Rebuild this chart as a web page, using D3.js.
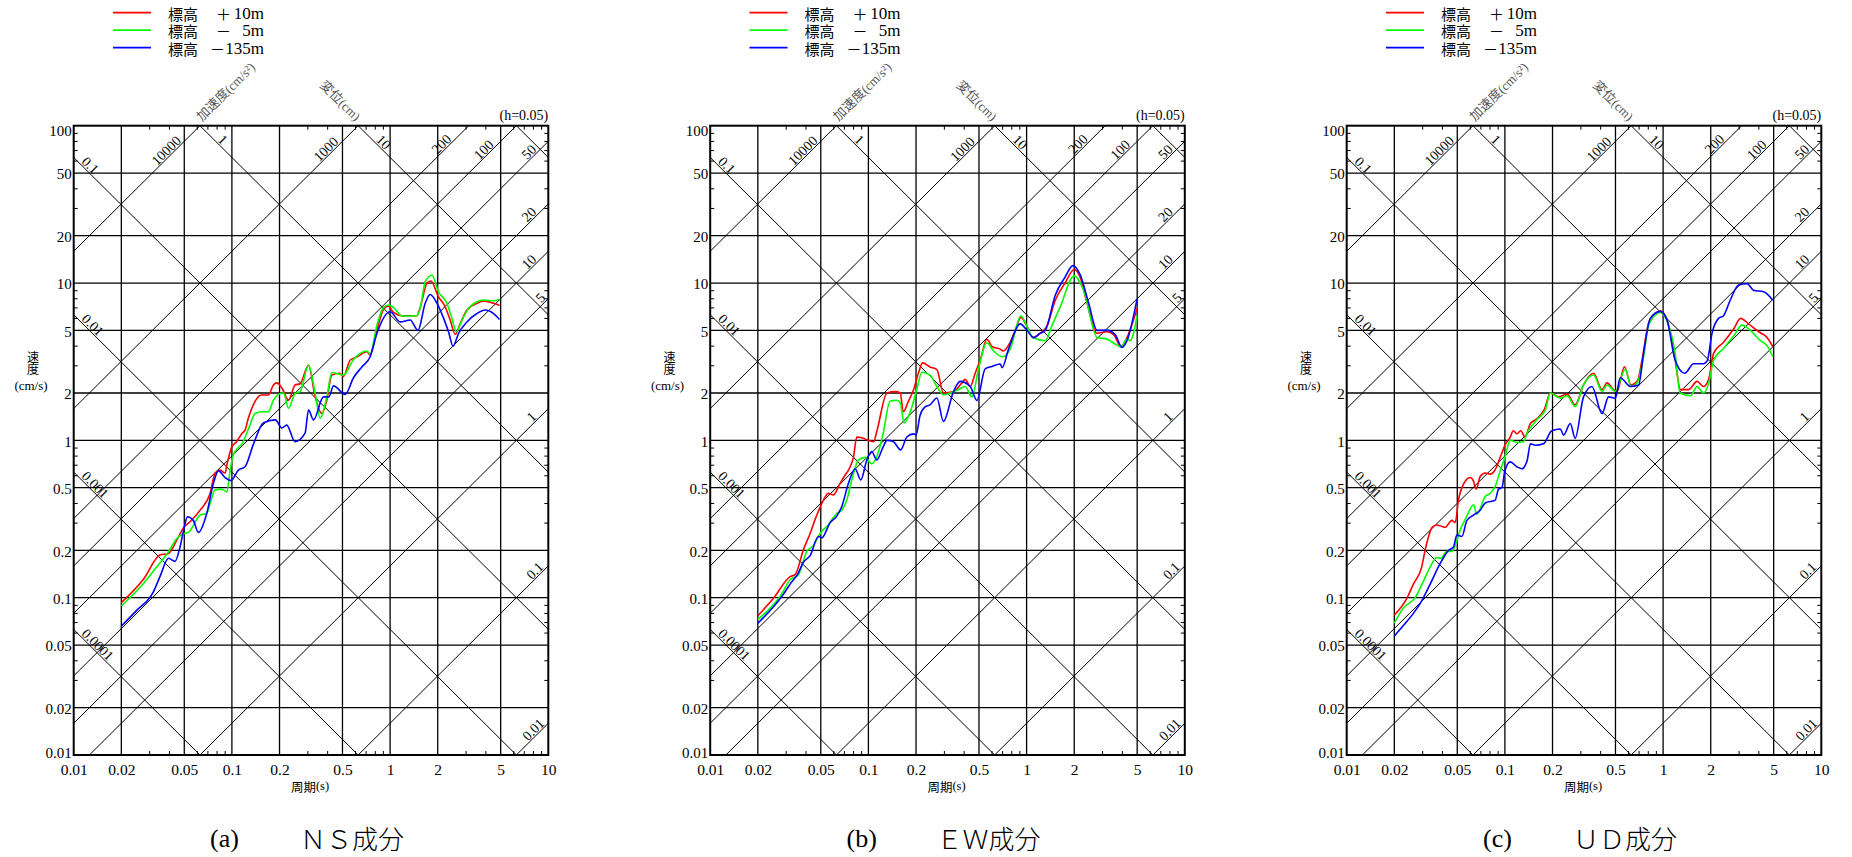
<!DOCTYPE html>
<html><head><meta charset="utf-8">
<script src="https://cdn.jsdelivr.net/npm/d3@7/dist/d3.min.js"></script>
<style>body{margin:0;background:#fff}svg{display:block}.vert{writing-mode:vertical-rl;text-orientation:upright}</style>
</head><body>
<svg id="c" width="1852" height="857"></svg>
<script>
// ---------------- data ----------------
const panelLetters = ["(a)", "(b)", "(c)"];
const panelTitles = ["ＮＳ成分", "ＥＷ成分", "ＵＤ成分"];
const seriesLabels = [["＋", "10m"], ["－", "5m"], ["－", "135m"]];
const seriesColors = ["#ff0000", "#00ff00", "#0000ff"];
const xTickValues = [0.01, 0.02, 0.05, 0.1, 0.2, 0.5, 1, 2, 5, 10];
const xTickLabels = ["0.01", "0.02", "0.05", "0.1", "0.2", "0.5", "1", "2", "5", "10"];
const yTickValues = [0.01, 0.02, 0.05, 0.1, 0.2, 0.5, 1, 2, 5, 10, 20, 50, 100];
const yTickLabels = ["0.01", "0.02", "0.05", "0.1", "0.2", "0.5", "1", "2", "5", "10", "20", "50", "100"];
const accelValues = [0.01, 0.1, 1, 5, 10, 20, 50, 100, 200, 1000, 10000];   // cm/s2
const dispValues = [0.0001, 0.001, 0.01, 0.1, 1, 10, 100];                   // cm
const dispLabelled = [0.0001, 0.001, 0.01, 0.1, 1, 10];

// period (s), pseudo velocity (cm/s)
const nsPlus10 = [[0.02,0.093],[0.0276,0.131],[0.0351,0.187],[0.0397,0.191],[0.0448,0.232],[0.05,0.282],[0.0544,0.304],[0.063,0.36],[0.0728,0.46],[0.0783,0.617],[0.0842,0.647],[0.0906,0.62],[0.0929,0.697],[0.0999,0.91],[0.107,0.98],[0.1158,1.107],[0.121,1.16],[0.127,1.38],[0.138,1.72],[0.154,1.94],[0.170,1.94],[0.183,2.25],[0.192,2.32],[0.207,2.15],[0.228,1.80],[0.251,2.25],[0.270,2.29],[0.305,3.0],[0.336,1.89],[0.370,1.48],[0.398,1.8],[0.428,2.6],[0.48,2.67],[0.507,2.55],[0.56,3.24],[0.62,3.4],[0.713,3.66],[0.748,3.5],[0.826,5.0],[0.909,6.8],[0.977,7.14],[1.05,6.5],[1.19,6.2],[1.476,6.2],[1.55,7.0],[1.71,9.96],[1.81,10.3],[2.02,8.2],[2.23,7.06],[2.40,5.8],[2.58,4.72],[2.77,5.5],[3.06,6.74],[3.54,7.43],[3.90,7.7],[4.51,7.43],[4.92,7.2]];
const nsMinus5 = [[0.02,0.0885],[0.0276,0.123],[0.0335,0.157],[0.0397,0.196],[0.0448,0.238],[0.05,0.256],[0.0531,0.26],[0.063,0.335],[0.0694,0.344],[0.0728,0.397],[0.0783,0.483],[0.0863,0.49],[0.0929,0.47],[0.0975,0.647],[0.102,0.806],[0.118,0.98],[0.130,1.25],[0.140,1.48],[0.154,1.52],[0.170,1.52],[0.183,1.80],[0.197,1.96],[0.212,2.0],[0.228,1.60],[0.251,1.99],[0.270,2.04],[0.305,3.0],[0.336,1.99],[0.361,1.38],[0.398,1.89],[0.428,2.7],[0.507,2.6],[0.587,3.27],[0.713,3.7],[0.748,3.55],[0.826,5.41],[0.909,7.0],[0.977,7.25],[1.05,7.0],[1.19,6.17],[1.476,6.2],[1.55,6.9],[1.667,10.2],[1.84,11.2],[2.02,8.8],[2.29,7.43],[2.46,5.96],[2.62,4.9],[2.85,5.82],[3.13,6.9],[3.54,7.6],[3.90,7.8],[4.51,7.7],[4.92,7.9]];
const nsMinus135 = [[0.02,0.066],[0.025,0.083],[0.0319,0.109],[0.0351,0.136],[0.0397,0.178],[0.0437,0.17],[0.047,0.21],[0.05,0.28],[0.0523,0.327],[0.057,0.31],[0.0614,0.26],[0.0694,0.344],[0.0764,0.533],[0.0822,0.64],[0.0906,0.58],[0.0984,0.555],[0.110,0.647],[0.121,0.68],[0.137,0.95],[0.158,1.29],[0.188,1.35],[0.207,1.2],[0.222,1.25],[0.251,0.98],[0.290,1.11],[0.305,1.56],[0.328,1.35],[0.379,1.89],[0.41,1.89],[0.439,2.22],[0.52,1.96],[0.587,2.5],[0.663,2.93],[0.748,3.4],[0.826,4.79],[1.0,6.57],[1.16,5.66],[1.34,5.82],[1.50,5.0],[1.667,7.43],[1.79,8.45],[1.98,7.43],[2.18,5.96],[2.34,4.9],[2.5,3.97],[2.71,4.79],[3.06,5.66],[3.54,6.4],[3.99,6.74],[4.51,6.4],[4.92,5.87]];

const ewPlus10 = [[0.02,0.0767],[0.0251,0.099],[0.032,0.136],[0.0344,0.14],[0.0388,0.201],[0.0428,0.256],[0.0472,0.335],[0.052,0.417],[0.0558,0.46],[0.0601,0.45],[0.0662,0.533],[0.0712,0.60],[0.0748,0.647],[0.0804,0.78],[0.0845,1.05],[0.0908,1.04],[0.1,1.0],[0.108,0.98],[0.113,1.14],[0.131,2.0],[0.148,2.04],[0.159,2.0],[0.166,1.52],[0.179,1.77],[0.193,2.1],[0.207,2.67],[0.220,3.11],[0.245,2.93],[0.271,2.82],[0.298,2.0],[0.345,2.04],[0.390,2.32],[0.409,2.44],[0.440,2.2],[0.473,2.67],[0.509,3.24],[0.561,4.39],[0.604,3.95],[0.681,3.8],[0.71,3.7],[0.787,4.2],[0.847,4.99],[0.92,6.05],[1.005,5.3],[1.097,4.5],[1.22,4.8],[1.34,5.3],[1.52,7.8],[1.75,9.99],[2.0,12.2],[2.18,10.9],[2.41,7.43],[2.79,4.79],[3.22,4.9],[3.55,4.7],[3.95,3.94],[4.31,4.5],[4.99,6.9]];
const ewMinus5 = [[0.02,0.0728],[0.0277,0.102],[0.032,0.13],[0.0361,0.14],[0.0408,0.197],[0.0449,0.215],[0.0495,0.256],[0.0558,0.29],[0.0631,0.344],[0.0679,0.36],[0.073,0.417],[0.0785,0.56],[0.0865,0.75],[0.0953,0.78],[0.105,0.71],[0.116,0.85],[0.124,1.11],[0.137,1.77],[0.151,1.80],[0.159,1.73],[0.168,1.29],[0.184,1.52],[0.202,2.1],[0.218,2.71],[0.245,2.6],[0.271,2.2],[0.298,1.95],[0.371,2.1],[0.409,2.2],[0.451,1.89],[0.497,2.85],[0.561,4.17],[0.618,3.7],[0.71,3.4],[0.787,3.8],[0.92,6.2],[1.005,5.3],[1.097,4.5],[1.31,4.3],[1.45,5.4],[1.63,7.06],[2.0,11.1],[2.29,9.0],[2.79,4.5],[3.22,4.4],[3.63,4.1],[3.95,3.92],[4.31,4.4],[4.52,4.3],[4.99,6.2]];
const ewMinus135 = [[0.02,0.0687],[0.0263,0.0925],[0.029,0.105],[0.032,0.122],[0.0361,0.144],[0.0388,0.168],[0.0428,0.185],[0.0483,0.245],[0.0507,0.24],[0.0573,0.30],[0.0631,0.33],[0.0679,0.38],[0.0748,0.533],[0.0824,0.66],[0.0895,0.56],[0.0977,0.75],[0.105,0.85],[0.113,0.75],[0.124,0.91],[0.131,1.0],[0.144,0.98],[0.160,0.87],[0.175,1.05],[0.193,1.1],[0.2,1.08],[0.212,1.44],[0.228,1.63],[0.245,1.68],[0.271,1.86],[0.298,1.32],[0.345,2.04],[0.380,2.37],[0.440,2.2],[0.485,1.79],[0.547,2.85],[0.604,2.95],[0.681,3.06],[0.70,2.9],[0.769,3.8],[0.912,5.5],[1.005,5.0],[1.11,4.5],[1.22,4.8],[1.31,4.99],[1.52,8.4],[1.75,10.9],[1.96,12.9],[2.18,11.3],[2.47,7.4],[2.79,5.0],[3.22,5.0],[3.63,4.7],[4.01,3.9],[4.31,4.3],[4.99,7.9]];

const udPlus10 = [[0.02,0.0775],[0.024,0.099],[0.0264,0.122],[0.0298,0.157],[0.0313,0.20],[0.0347,0.28],[0.0371,0.29],[0.0419,0.28],[0.0462,0.31],[0.0485,0.30],[0.0509,0.417],[0.0561,0.55],[0.0604,0.58],[0.0633,0.55],[0.0658,0.49],[0.0698,0.59],[0.0751,0.62],[0.0807,0.61],[0.0868,0.65],[0.0934,0.78],[0.1,0.93],[0.108,1.05],[0.113,1.15],[0.119,1.1],[0.126,1.15],[0.134,1.05],[0.145,1.28],[0.159,1.37],[0.177,1.56],[0.194,2.0],[0.218,1.89],[0.247,1.97],[0.278,1.68],[0.314,2.25],[0.364,2.67],[0.411,2.1],[0.442,2.32],[0.486,2.1],[0.511,2.04],[0.570,2.93],[0.627,2.25],[0.690,2.4],[0.736,3.24],[0.809,5.55],[0.893,6.4],[0.96,6.67],[1.06,5.8],[1.16,3.95],[1.29,2.1],[1.45,2.1],[1.64,2.37],[1.80,2.2],[1.94,2.44],[2.09,3.6],[2.41,4.2],[2.79,5.1],[3.09,5.96],[3.47,5.5],[4.02,4.9],[4.54,4.5],[4.93,3.95]];
const udMinus5 = [[0.02,0.069],[0.0228,0.086],[0.0271,0.10],[0.0306,0.128],[0.0337,0.157],[0.0371,0.18],[0.0394,0.178],[0.043,0.197],[0.0462,0.197],[0.0485,0.215],[0.0522,0.27],[0.0575,0.33],[0.0633,0.39],[0.0665,0.34],[0.0751,0.44],[0.0807,0.46],[0.0868,0.51],[0.0934,0.64],[0.1,0.78],[0.108,1.0],[0.119,0.97],[0.131,0.98],[0.138,1.11],[0.159,1.35],[0.18,1.56],[0.194,2.0],[0.224,1.85],[0.247,1.92],[0.278,1.64],[0.314,2.25],[0.364,2.6],[0.411,2.05],[0.442,2.25],[0.499,2.05],[0.577,2.83],[0.627,2.2],[0.690,2.35],[0.753,3.4],[0.809,5.4],[0.96,6.5],[1.06,5.7],[1.19,3.6],[1.28,2.0],[1.49,1.92],[1.64,2.2],[1.80,2.0],[1.94,2.3],[2.09,3.24],[2.41,3.84],[2.79,4.6],[3.15,5.4],[3.56,5.0],[4.12,4.3],[4.54,4.0],[4.93,3.4]];
const udMinus135 = [[0.02,0.057],[0.0228,0.0665],[0.0264,0.0795],[0.0298,0.0955],[0.0337,0.122],[0.039,0.165],[0.044,0.20],[0.0473,0.21],[0.0497,0.25],[0.0535,0.245],[0.0575,0.31],[0.0633,0.335],[0.0698,0.36],[0.0751,0.40],[0.0868,0.417],[0.0912,0.49],[0.0957,0.50],[0.1,0.64],[0.108,0.73],[0.119,0.68],[0.128,0.66],[0.138,0.74],[0.145,0.95],[0.156,0.93],[0.175,0.95],[0.198,1.15],[0.224,1.18],[0.235,1.08],[0.259,1.28],[0.278,1.03],[0.314,1.89],[0.355,2.2],[0.411,1.48],[0.452,1.89],[0.499,1.85],[0.536,2.5],[0.621,2.2],[0.700,2.25],[0.753,3.6],[0.83,5.96],[0.96,6.6],[1.06,5.8],[1.19,3.24],[1.37,2.67],[1.56,3.07],[1.80,3.07],[1.90,3.2],[2.04,4.8],[2.24,5.96],[2.41,6.2],[2.66,7.8],[3.0,9.7],[3.40,9.9],[3.73,9.0],[4.32,8.8],[4.93,7.8]];

const panelSeries = [
  [nsPlus10, nsMinus5, nsMinus135],
  [ewPlus10, ewMinus5, ewMinus135],
  [udPlus10, udMinus5, udMinus135]
];

// ---------------- layout / style ----------------
const panelOffset = 636.5;
const plot = {left: 73.7, top: 125.7, width: 474.6, height: 629.3};
const SERIF = "'Liberation Serif','Times New Roman',serif";
const CJK = "'Noto Sans CJK JP','Noto Sans CJK SC',sans-serif";
const accelShift = {"10000": 17, "1000": 18, "200": 15.5, "100": 21, "50": 10, "20": 10, "10": 10, "5": 1, "1": 10, "0.1": 3, "0.01": 2};

const minorX = [], minorY = [];
[0.01, 0.1, 1].forEach(d => [3,4,6,7,8,9].forEach(m => minorX.push(+(d*m).toPrecision(3))));
[0.01, 0.1, 1, 10].forEach(d => [3,4,6,7,8,9].forEach(m => minorY.push(+(d*m).toPrecision(3))));

const svg = d3.select("#c");
const defs = svg.append("defs");
const TWO_PI = 2 * Math.PI;

panelSeries.forEach((series, i) => {
  const ox = i * panelOffset;
  const L = plot.left + ox, R = L + plot.width, T0 = plot.top, B = T0 + plot.height;
  const x = d3.scaleLog().domain([0.01, 10]).range([L, R]);
  const y = d3.scaleLog().domain([0.01, 100]).range([B, T0]);
  const k = (plot.height / 4) / (plot.width / 3);
  const ang = Math.atan(k) * 180 / Math.PI;

  defs.append("clipPath").attr("id", "clip" + i)
    .append("rect").attr("x", L).attr("y", T0).attr("width", plot.width).attr("height", plot.height);

  const g = svg.append("g");
  const inner = g.append("g").attr("clip-path", `url(#clip${i})`);

  // grid
  const gx = xTickValues.filter(v => v > 0.01 && v < 10);
  const gy = yTickValues.filter(v => v > 0.01 && v < 100);
  inner.selectAll("line.vg").data(gx).join("line").attr("class", "vg")
    .attr("x1", d => x(d)).attr("x2", d => x(d)).attr("y1", T0).attr("y2", B)
    .attr("stroke", "#000").attr("stroke-width", 1.3);
  inner.selectAll("line.hg").data(gy).join("line").attr("class", "hg")
    .attr("y1", d => y(d)).attr("y2", d => y(d)).attr("x1", L).attr("x2", R)
    .attr("stroke", "#000").attr("stroke-width", 1.3);

  // diagonal lines: constant acceleration (V = A T / 2pi) and displacement (V = 2pi D / T)
  inner.selectAll("line.acc").data(accelValues).join("line").attr("class", "acc")
    .attr("x1", x(0.001)).attr("y1", a => y(a * 0.001 / TWO_PI))
    .attr("x2", x(100)).attr("y2", a => y(a * 100 / TWO_PI))
    .attr("stroke", "#000").attr("stroke-width", 1);
  inner.selectAll("line.dsp").data(dispValues).join("line").attr("class", "dsp")
    .attr("x1", x(0.001)).attr("y1", dv => y(TWO_PI * dv / 0.001))
    .attr("x2", x(100)).attr("y2", dv => y(TWO_PI * dv / 100))
    .attr("stroke", "#000").attr("stroke-width", 1);

  // curves
  const line = d3.line().x(d => x(d[0])).y(d => y(d[1])).curve(d3.curveMonotoneX);
  series.forEach((s, j) => {
    inner.append("path").datum(s).attr("d", line).attr("fill", "none")
      .attr("stroke", seriesColors[j]).attr("stroke-width", 1.6).attr("stroke-linejoin", "round");
  });

  // minor ticks (inside) on all four sides
  const tickStyle = sel => { sel.select(".domain").remove(); sel.selectAll("line").attr("stroke", "#000").attr("stroke-width", 1); };
  g.append("g").attr("transform", `translate(0,${B})`).call(d3.axisBottom(x).tickValues(minorX).tickSize(-4).tickFormat("")).call(tickStyle);
  g.append("g").attr("transform", `translate(0,${T0})`).call(d3.axisTop(x).tickValues(minorX).tickSize(-4).tickFormat("")).call(tickStyle);
  g.append("g").attr("transform", `translate(${L},0)`).call(d3.axisLeft(y).tickValues(minorY).tickSize(-4).tickFormat("")).call(tickStyle);
  g.append("g").attr("transform", `translate(${R},0)`).call(d3.axisRight(y).tickValues(minorY).tickSize(-4).tickFormat("")).call(tickStyle);

  // tick labels
  const xa = g.append("g").attr("transform", `translate(0,${B})`)
    .call(d3.axisBottom(x).tickValues(xTickValues).tickSize(0).tickPadding(9).tickFormat((d, n) => xTickLabels[n]));
  xa.select(".domain").remove();
  xa.selectAll("text").attr("font-family", SERIF).attr("font-size", 15.5).attr("fill", "#000");
  const ya = g.append("g").attr("transform", `translate(${L},0)`)
    .call(d3.axisLeft(y).tickValues(yTickValues).tickSize(0).tickPadding(2).tickFormat((d, n) => yTickLabels[n]));
  ya.select(".domain").remove();
  ya.selectAll("text").attr("font-family", SERIF).attr("font-size", 15).attr("fill", "#000")
    .attr("transform", d => `translate(0,${d === 100 ? 5 : (d === 0.01 ? -2.5 : 1)})`);

  // frame
  g.append("rect").attr("x", L).attr("y", T0).attr("width", plot.width).attr("height", plot.height)
    .attr("fill", "none").attr("stroke", "#000").attr("stroke-width", 2);

  // acceleration labels
  accelValues.forEach(a => {
    const T1 = TWO_PI * 100 / a;
    let px, py;
    if (T1 <= 10) { px = x(T1); py = T0; } else { px = R; py = y(10 * a / TWO_PI); }
    const s = accelShift[String(a)];
    const bx = px - s - 1.0, by = py + s * k - 1.0;
    g.append("text").attr("x", bx).attr("y", by).attr("text-anchor", "end")
      .attr("transform", `rotate(${-ang},${bx},${by})`)
      .attr("font-family", SERIF).attr("font-size", 14).text(String(a));
  });
  // displacement labels
  dispLabelled.forEach(dv => {
    const V0 = TWO_PI * dv / 0.01;
    let px, py, s;
    if (V0 <= 100) { px = L; py = y(V0); s = 6; } else { px = x(TWO_PI * dv / 100); py = T0; s = 16; }
    const bx = px + s + 1.0, by = py + s * k - 1.0;
    g.append("text").attr("x", bx).attr("y", by).attr("text-anchor", "start")
      .attr("transform", `rotate(${ang},${bx},${by})`)
      .attr("font-family", SERIF).attr("font-size", 14).text(String(dv));
  });

  // axis titles along the top
  const ax = x(TWO_PI * 100 / 10000) + 2, ay = T0 - 4;
  const t1 = g.append("text").attr("x", ax).attr("y", ay).attr("transform", `rotate(${-ang},${ax},${ay})`)
    .attr("fill", "#555").attr("font-size", 13);
  t1.append("tspan").attr("font-family", CJK).text("加速度");
  t1.append("tspan").attr("font-family", SERIF).text("(cm/s²)");
  const dx = x(TWO_PI * 10 / 100) - 3, dy = T0 - 4;
  const t2 = g.append("text").attr("x", dx).attr("y", dy).attr("text-anchor", "end")
    .attr("transform", `rotate(${ang},${dx},${dy})`).attr("fill", "#555").attr("font-size", 13);
  t2.append("tspan").attr("font-family", CJK).text("変位");
  t2.append("tspan").attr("font-family", SERIF).text("(cm)");

  g.append("text").attr("x", R).attr("y", T0 - 6).attr("text-anchor", "end")
    .attr("font-family", SERIF).attr("font-size", 14).text("(h=0.05)");

  // y title: vertical 速度 then (cm/s)
  g.append("text").attr("class", "vert").attr("x", ox + 33).attr("y", 351)
    .attr("font-family", CJK).attr("font-size", 12).text("速度");
  g.append("text").attr("x", ox + 31).attr("y", 390).attr("text-anchor", "middle")
    .attr("font-family", SERIF).attr("font-size", 13).text("(cm/s)");
  // x title
  const xt = g.append("text").attr("x", ox + 310).attr("y", 786).attr("text-anchor", "middle").attr("dominant-baseline", "central")
    .attr("font-size", 12.5);
  xt.append("tspan").attr("font-family", CJK).text("周期");
  xt.append("tspan").attr("font-family", SERIF).text("(s)");

  // legend
  seriesLabels.forEach((lab, j) => {
    const ly = 12.7 + j * 17.5;
    g.append("line").attr("x1", ox + 113).attr("x2", ox + 151).attr("y1", ly).attr("y2", ly)
      .attr("stroke", seriesColors[j]).attr("stroke-width", 1.8);
    const lt = g.append("text").attr("y", ly).attr("dominant-baseline", "central");
    lt.append("tspan").attr("x", ox + 168).attr("font-family", CJK).attr("font-size", 15).text("標高");
    lt.append("tspan").attr("x", ox + (j === 2 ? 210 : 216)).attr("font-family", CJK).attr("font-size", 15).text(lab[0]);
    lt.append("tspan").attr("x", ox + 264).attr("text-anchor", "end").attr("font-family", SERIF).attr("font-size", 17).text(lab[1]);
  });

  // caption
  g.append("text").attr("x", ox + 210).attr("y", 838).attr("dominant-baseline", "central")
    .attr("font-family", SERIF).attr("font-size", 26).text(panelLetters[i]);
  g.append("text").attr("x", ox + 300).attr("y", 837).attr("dominant-baseline", "central")
    .attr("font-family", CJK).attr("font-size", 26).attr("font-weight", 300).text(panelTitles[i]);
});
</script>
</body></html>
